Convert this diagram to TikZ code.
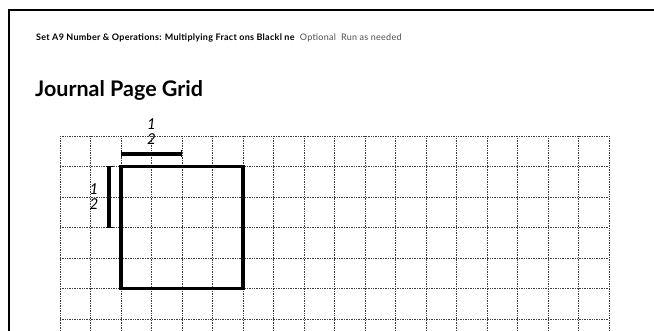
\documentclass[tikz,border=0pt]{standalone}
\usepackage{fontspec}
\setmainfont{Lato}
\usetikzlibrary{calc,arrows.meta}
\begin{document}
\begin{tikzpicture}[x=1pt,y=1pt,{gridst/.style={black!75,densely dotted,line width=0.7pt}},{edge/.style={black,line width=3.6pt}},{halfbar/.style={black,line width=3.6pt,{Bar[width=7pt,line width=0.8pt]}-{Bar[width=7pt,line width=0.8pt]}}},{half/.style={font=\itshape\fontsize{15}{15}\selectfont,inner sep=0pt,align=center}}]
	%%page
	\useasboundingbox (0,0) rectangle (654,330);
	\clip (0,0) rectangle (654,330);
	%%frame
	\draw [line width=1.2pt] (9,-5) -- (9,320) -- (660,320);
	%%header and title
	\node [anchor=base west,inner sep=0pt,font=\fontsize{9}{10}\selectfont\addfontfeature{LetterSpace=3}] (head) at (36,289) {\textbf{Set A9 Number \& Operations: Multiplying Fract ons Blackl ne}\ \ {\color{black!70}Optional\ \ Run as needed}};
	\node [anchor=base west,inner sep=0pt,font=\bfseries\fontsize{21.5}{22}\selectfont] (title) at (35,233) {Journal Page Grid};
	%%grid corner (top left)
	\coordinate (G) at (60,194);
	\begin{scope}[shift={(60,-19.5)}]
		\draw [gridst,step=30.5] (0,0) grid (549,213.5);
	\end{scope}
	%%square
	\coordinate (S1) at ($(G)+(61,-30.5)$);
	\coordinate (S2) at ($(G)+(183,-152.5)$);
	\draw [edge] (S1) rectangle (S2);
	%%halves
	\coordinate (H1) at ($(G)+(61,-18)$);
	\coordinate (H2) at ($(G)+(122,-18)$);
	\draw [halfbar] (H1) -- (H2);
	\node [half] (hlab) at ($(G)+(91.5,4)$) {1\\2};
	\coordinate (V1) at ($(G)+(49,-30.5)$);
	\coordinate (V2) at ($(G)+(49,-91.5)$);
	\draw [halfbar] (V1) -- (V2);
	\node [half] (vlab) at ($(G)+(34,-61)$) {1\\2};
\end{tikzpicture}
\end{document}
